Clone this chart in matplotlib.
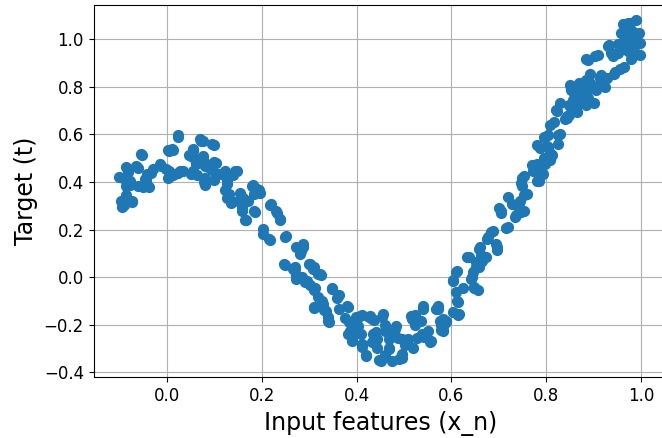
import matplotlib
matplotlib.use("Agg")
import matplotlib.pyplot as plt

# points (x_n, t)
x_left = [-0.101, -0.098, -0.096, -0.087, -0.083, -0.078, -0.074, -0.087, -0.065, -0.056,
          -0.061, -0.047, -0.043, -0.038, -0.029, -0.016, -0.003, 0.002, 0.011, 0.006,
          0.015, 0.024, 0.028, 0.051, 0.046, 0.055, 0.060, 0.069, 0.073, 0.077,
          0.095, 0.100, 0.086, 0.109, 0.122, 0.126, 0.144, 0.131, 0.135, 0.149,
          0.158, 0.167, 0.171, 0.180, 0.184, 0.189, 0.184, 0.202, 0.215, 0.220,
          0.229, 0.238, 0.251, 0.247, 0.269, 0.273, 0.282, 0.287, 0.300, 0.296,
          0.309, 0.322, 0.313, 0.327, 0.309, 0.349, 0.336, 0.340, 0.358, 0.362,
          0.380, 0.376, 0.385, 0.390, 0.407, 0.402, 0.411, 0.420, 0.429, 0.434,
          0.443, 0.451, 0.456, 0.460, 0.469, 0.474, 0.483, 0.487, 0.496, 0.505,
          0.514, 0.518, 0.527, 0.536, 0.541, 0.550, 0.558, 0.572, 0.576, 0.582,
          0.589]
t_left = [0.420, 0.322, 0.294, 0.385, 0.441, 0.406, 0.322, 0.462, 0.469, 0.519,
          0.385, 0.413, 0.434, 0.378, 0.455, 0.476, 0.455, 0.533, 0.540, 0.427,
          0.434, 0.596, 0.448, 0.434, 0.512, 0.540, 0.476, 0.582, 0.491, 0.399,
          0.561, 0.484, 0.462, 0.434, 0.448, 0.392, 0.448, 0.350, 0.322, 0.322,
          0.280, 0.238, 0.322, 0.385, 0.350, 0.371, 0.280, 0.202, 0.160, 0.308,
          0.280, 0.245, 0.174, 0.055, 0.041, -0.001, 0.111, 0.139, 0.055, -0.015,
          0.041, 0.013, -0.044, -0.100, -0.128, -0.044, -0.142, -0.184, -0.086, -0.135,
          -0.121, -0.170, -0.226, -0.268, -0.163, -0.205, -0.283, -0.332, -0.163, -0.240,
          -0.296, -0.353, -0.156, -0.226, -0.296, -0.353, -0.205, -0.254, -0.339, -0.268,
          -0.163, -0.296, -0.254, -0.184, -0.121, -0.226, -0.268, -0.121, -0.184, -0.226,
          -0.184]

x_right = [0.603, 0.612, 0.612, 0.616, 0.625, 0.634, 0.643, 0.647, 0.652, 0.660,
           0.665, 0.674, 0.678, 0.687, 0.696, 0.705, 0.719, 0.719, 0.728, 0.736,
           0.745, 0.754, 0.750, 0.759, 0.754, 0.772, 0.781, 0.785, 0.794, 0.798,
           0.803, 0.803, 0.812, 0.808, 0.817, 0.826, 0.830, 0.821, 0.830, 0.839,
           0.848, 0.852, 0.857, 0.866, 0.870, 0.875, 0.884, 0.888, 0.892, 0.901,
           0.906, 0.910, 0.915, 0.924, 0.928, 0.933, 0.946, 0.951, 0.960, 0.964,
           0.969, 0.973, 0.977, 0.982, 0.986, 0.990, 0.995, 0.999, 0.999]
t_right = [-0.015, 0.027, -0.100, -0.156, -0.044, 0.083, -0.001, -0.044, 0.041, 0.125,
           0.069, 0.083, 0.167, 0.195, 0.125, 0.280, 0.336, 0.209, 0.308, 0.259,
           0.322, 0.280, 0.385, 0.350, 0.427, 0.448, 0.476, 0.406, 0.434, 0.476,
           0.547, 0.596, 0.512, 0.491, 0.652, 0.561, 0.603, 0.701, 0.730, 0.666,
           0.723, 0.786, 0.744, 0.694, 0.814, 0.751, 0.779, 0.912, 0.814, 0.730,
           0.786, 0.933, 0.849, 0.800, 0.835, 0.975, 0.863, 0.940, 0.982, 0.884,
           1.038, 0.996, 1.066, 0.926, 0.968, 1.081, 1.025, 0.982, 0.933]

# extra points from the close-up crops
x_extra = [0.024, 0.071, 0.012, 0.005, -0.054, 0.054, 0.057, 0.075, -0.061, -0.082,
           -0.094, -0.079, -0.086, -0.092, -0.075, -0.051, -0.044, -0.033, -0.013, 0.005,
           0.012, 0.022, 0.033, 0.001, 0.081, 0.054, 0.064, 0.081, 0.095, 0.050,
           0.075, 0.099, 0.075, 0.081, 0.104, 0.080, 0.081, 0.099, 0.120, 0.127,
           0.148, 0.140, 0.123, 0.127, 0.134, 0.154, 0.161, 0.182, 0.193, 0.196,
           0.158, 0.165, 0.186, 0.217, 0.231, 0.238, 0.203, 0.217, 0.248, 0.273,
           0.248, 0.266, 0.273, 0.287, 0.280, 0.269, 0.273, 0.301, 0.308, 0.318,
           0.325, 0.284, 0.290, 0.301, 0.311, 0.318, 0.349, 0.363, 0.311, 0.328,
           0.332, 0.339, 0.342, 0.381, 0.384, 0.398, 0.412, 0.426, 0.436, 0.381,
           0.391, 0.398, 0.409, 0.412, 0.419, 0.433, 0.443]
t_extra = [0.591, 0.574, 0.535, 0.528, 0.514, 0.528, 0.500, 0.493, 0.458, 0.451,
           0.415, 0.388, 0.345, 0.303, 0.317, 0.380, 0.409, 0.437, 0.465, 0.444,
           0.430, 0.437, 0.444, 0.415, 0.400, 0.444, 0.430, 0.465, 0.451, 0.507,
           0.570, 0.556, 0.507, 0.479, 0.479, 0.415, 0.388, 0.409, 0.430, 0.409,
           0.444, 0.430, 0.367, 0.331, 0.310, 0.352, 0.331, 0.388, 0.367, 0.352,
           0.289, 0.240, 0.275, 0.303, 0.268, 0.240, 0.183, 0.156, 0.170, 0.127,
           0.050, 0.036, 0.008, 0.127, 0.099, 0.036, -0.006, 0.057, 0.036, 0.015,
           0.008, 0.001, -0.020, -0.034, -0.055, -0.084, -0.048, -0.076, -0.126, -0.112,
           -0.140, -0.168, -0.189, -0.126, -0.189, -0.168, -0.161, -0.168, -0.182, -0.238,
           -0.259, -0.217, -0.238, -0.294, -0.329, -0.273, -0.259]

x_extra2 = [0.433, 0.440, 0.436, 0.454, 0.460, 0.468, 0.474, 0.482, 0.447, 0.460,
            0.468, 0.489, 0.495, 0.495, 0.502, 0.516, 0.523, 0.509, 0.541, 0.568,
            0.537, 0.543, 0.555, 0.579, 0.582, 0.589, 0.603, 0.530, 0.523,
            0.701, 0.704, 0.739, 0.735, 0.715, 0.683, 0.676, 0.694, 0.697, 0.659,
            0.662, 0.638, 0.652, 0.659, 0.610, 0.645, 0.641, 0.603, 0.648, 0.656,
            0.610, 0.614, 0.572, 0.614, 0.582, 0.585, 0.579,
            0.823, 0.843, 0.809, 0.795, 0.826, 0.781, 0.788, 0.802, 0.809, 0.795,
            0.770, 0.777, 0.788, 0.781, 0.749, 0.746, 0.753, 0.742, 0.746]
t_extra2 = [-0.175, -0.231, -0.273, -0.168, -0.203, -0.259, -0.245, -0.217, -0.350, -0.329,
            -0.301, -0.344, -0.322, -0.259, -0.287, -0.175, -0.203, -0.259, -0.133, -0.133,
            -0.238, -0.252, -0.273, -0.203, -0.224, -0.189, -0.147, -0.182, -0.161,
            0.289, 0.268, 0.303, 0.254, 0.205, 0.191, 0.162, 0.141, 0.113, 0.120,
            0.092, 0.085, 0.064, 0.043, 0.022, 0.022, -0.006, -0.013, -0.041, -0.055,
            -0.062, -0.105, -0.133, -0.161, -0.175, -0.196, -0.224,
            0.697, 0.676, 0.641, 0.591, 0.598, 0.556, 0.542, 0.549, 0.521, 0.500,
            0.472, 0.451, 0.437, 0.402, 0.415, 0.394, 0.345, 0.296, 0.275]

x_top = [0.962, 0.972, 0.982, 0.958, 0.968, 0.986, 0.979, 0.951, 0.962, 0.972,
         0.930, 0.937, 0.941, 0.990, 0.979, 0.979, 0.903, 0.885, 0.955, 0.944,
         0.892, 0.885, 0.913, 0.920, 0.910, 0.851, 0.858, 0.872, 0.879, 0.889,
         0.885, 0.864, 0.872, 0.851, 0.848, 0.843]
t_top = [1.062, 1.069, 1.034, 1.027, 1.020, 0.992, 0.971, 0.978, 0.964, 0.950,
         0.971, 0.943, 0.929, 0.936, 0.915, 0.943, 0.929, 0.915, 0.873, 0.852,
         0.852, 0.830, 0.837, 0.823, 0.802, 0.809, 0.774, 0.781, 0.816, 0.753,
         0.725, 0.753, 0.732, 0.718, 0.683, 0.669]

xs = x_left + x_right + x_extra + x_extra2 + x_top
ts = t_left + t_right + t_extra + t_extra2 + t_top

fig = plt.figure(figsize=(6.62, 4.38), dpi=100)
ax = fig.add_axes([0.1415, 0.1386, 0.866, 0.8507])
ax.scatter(xs, ts, s=50, color="#1f77b4")

ax.set_xlim(-0.155, 1.055)
ax.set_ylim(-0.421, 1.145)
ax.set_xticks([0.0, 0.2, 0.4, 0.6, 0.8, 1.0])
ax.set_yticks([-0.4, -0.2, 0.0, 0.2, 0.4, 0.6, 0.8, 1.0])
ax.tick_params(labelsize=12)
ax.set_xlabel("Input features (x_n)", fontsize=17)
ax.set_ylabel("Target (t)", fontsize=17)
ax.grid(True)
ax.set_axisbelow(True)

fig.savefig("out.png", dpi=100)
